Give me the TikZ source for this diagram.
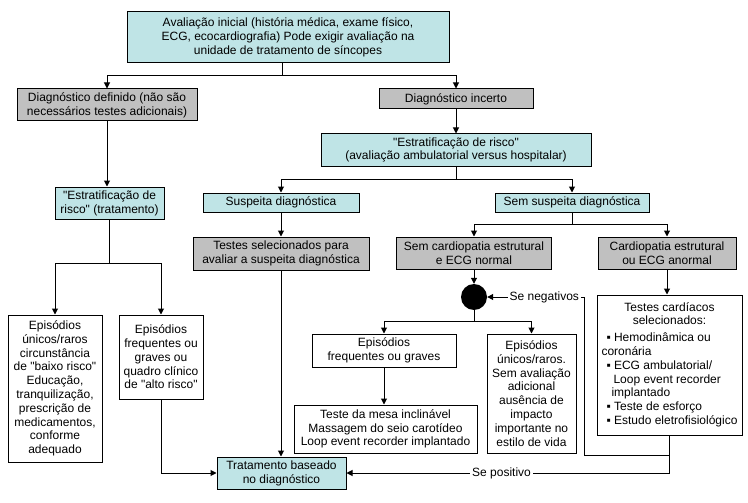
\documentclass[tikz,border=0pt]{standalone}
\usepackage{fontspec}
\newfontfamily\diagfont{Liberation Sans}
\usetikzlibrary{arrows.meta}
\definecolor{ciano}{RGB}{191,228,230}
\definecolor{cinza}{RGB}{192,192,192}
\tikzset{
  caixa/.style={draw, line width=1pt, inner sep=0pt, align=center, font=\diagfont\fontsize{12}{13.8}\selectfont},
  cbox/.style={caixa, fill=ciano},
  gbox/.style={caixa, fill=cinza},
  wbox/.style={caixa, fill=white},
  rotulo/.style={fill=white, inner sep=2pt, font=\diagfont\fontsize{12}{13.8}\selectfont},
  linha/.style={line width=1pt},
  seta/.style={line width=1pt, -{Triangle[length=6pt,width=6pt]}},
}
\begin{document}
\begin{tikzpicture}[x=1pt,y=-1pt]
\useasboundingbox (0,0) rectangle (748,503);
\node[cbox, minimum width=322, minimum height=51] (ini) at (288,37.5){Avaliação inicial (história médica, exame físico,\\ECG, ecocardiografia) Pode exigir avaliação na\\unidade de tratamento de síncopes};
\node[gbox, minimum width=180, minimum height=32] (def) at (107,105){Diagnóstico definido (não são\\necessários testes adicionais)};
\node[gbox, minimum width=154, minimum height=20] (inc) at (456,99){Diagnóstico incerto};
\node[cbox, minimum width=270, minimum height=32] (estr) at (456,150){"Estratificação de risco"\\(avaliação ambulatorial versus hospitalar)};
\node[cbox, minimum width=109, minimum height=32] (estrt) at (109.5,203){"Estratificação de\\risco" (tratamento)};
\node[cbox, minimum width=156, minimum height=19] (susp) at (281,202.5){Suspeita diagnóstica};
\node[cbox, minimum width=154, minimum height=19] (sem) at (572,202.5){Sem suspeita diagnóstica};
\node[gbox, minimum width=176, minimum height=33] (tsel) at (281,253.5){Testes selecionados para\\avaliar a suspeita diagnóstica};
\node[gbox, minimum width=155, minimum height=32] (semc) at (474,253){Sem cardiopatia estrutural\\e ECG normal};
\node[gbox, minimum width=138, minimum height=32] (card) at (667,253){Cardiopatia estrutural\\ou ECG anormal};
\node[circle, fill=black, minimum size=26, inner sep=0pt] (dot) at (474,297){};
\node[wbox, minimum width=145, minimum height=140] (ctest) at (669.5,365){\begin{tabular}{@{}l@{}}
\multicolumn{1}{@{}c@{}}{Testes cardíacos}\\
\multicolumn{1}{@{}c@{}}{selecionados:}\\[3pt]
\hspace*{5pt}▪ Hemodinâmica ou\\
coronária\\
\hspace*{5pt}▪ ECG ambulatorial/\\
\hspace*{12pt}Loop event recorder\\
\hspace*{10pt}implantado\\
\hspace*{5pt}▪ Teste de esforço\\
\hspace*{5pt}▪ Estudo eletrofisiológico
\end{tabular}};
\node[wbox, minimum width=144, minimum height=33] (epf) at (384,350.5){Episódios\\frequentes ou graves};
\node[wbox, minimum width=89, minimum height=119] (epu2) at (531.5,393.5){Episódios\\únicos/raros.\\Sem avaliação\\adicional\\ausência de\\impacto\\importante no\\estilo de vida};
\node[wbox, minimum width=183, minimum height=48] (mesa) at (385.5,429){Teste da mesa inclinável\\Massagem do seio carotídeo\\Loop event recorder implantado};
\node[wbox, minimum width=94, minimum height=147] (epu1) at (55,388.5){Episódios\\únicos/raros\\circunstância\\de "baixo risco"\\Educação,\\tranquilização,\\prescrição de\\medicamentos,\\conforme\\adequado};
\node[wbox, minimum width=84, minimum height=84] (epf1) at (161,357){Episódios\\frequentes ou\\graves ou\\quadro clínico\\de "alto risco"};
\node[cbox, minimum width=129, minimum height=32] (trat) at (281.5,473){Tratamento baseado\\no diagnóstico};
\coordinate (j1) at (282,76);
\coordinate (j2) at (456,179);
\coordinate (j3) at (109.5,263);
\coordinate (j4) at (572,224);
\coordinate (j5) at (474,321);
\coordinate (j7) at (584,455);
\draw[linha](ini.south -| j1) -- (j1);
\draw[seta](j1) -| (def.north);
\draw[seta](j1) -| (inc.north);
\draw[seta](def.south) -- (def.south |- estrt.north);
\draw[seta](inc.south) -- (estr.north);
\draw[linha](estr.south) -- (j2);
\draw[seta](j2) -| (susp.north);
\draw[seta](j2) -| (sem.north);
\draw[seta](susp.south) -- (tsel.north);
\draw[seta](tsel.south) -- (tsel.south |- trat.north);
\draw[linha](estrt.south) -- (j3);
\draw[seta](j3) -| (epu1.north);
\draw[seta](j3) -| (epf1.north);
\draw[seta](epf1.south) |- (trat.west);
\draw[linha](sem.south) -- (j4);
\draw[seta](j4) -| (semc.north);
\draw[seta](j4) -| (card.north);
\draw[seta](semc.south) -- (dot.north);
\draw[seta](card.south) -- (card.south |- ctest.north);
\draw[linha](dot.south) -- (j5);
\draw[seta](j5) -| (epf.north);
\draw[seta](j5) -| (epu2.north);
\draw[seta](epf.south) -- (epf.south |- mesa.north);
\draw[seta](ctest.south) |- node[rotulo, pos=0.76] (lpos) {Se positivo} (trat.east);
\draw[seta](ctest.south |- j7) -- (j7) -- (j7 |- dot) -- node[rotulo, pos=0.41] (lneg) {Se negativos} (dot.east);

\end{tikzpicture}
\end{document}
